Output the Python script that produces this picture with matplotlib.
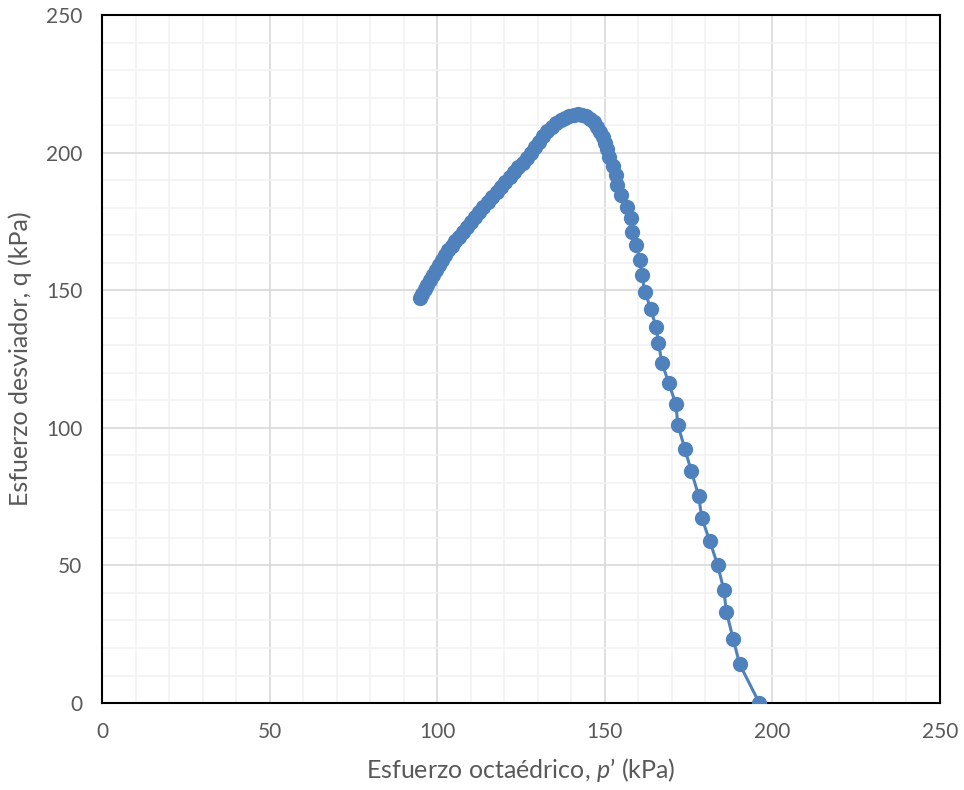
import matplotlib
matplotlib.use("Agg")
import matplotlib.pyplot as plt
from matplotlib.ticker import MultipleLocator

# trayectoria de esfuerzos (p', q) en kPa
p_asc = [95.0, 95.6, 96.3, 97.0, 97.8, 98.6, 99.5, 100.4, 101.3, 102.3,
         103.3, 104.3, 105.4, 106.5, 107.6, 108.8, 110.0, 111.2, 112.5, 113.8,
         115.1, 116.4, 117.7, 119.0, 120.3, 121.6, 122.9, 124.2, 125.5, 126.8,
         128.0, 129.2, 130.4, 131.6, 132.9, 134.2, 135.5, 136.8, 138.1, 139.4,
         140.7, 142.0, 143.2, 144.4, 145.6, 146.7, 147.7, 148.6, 149.4, 150.1]
q_asc = [147.0, 148.5, 150.3, 152.0, 153.8, 155.5, 157.4, 159.2, 161.0, 162.8,
         164.5, 166.1, 167.8, 169.5, 171.2, 173.0, 174.8, 176.6, 178.5, 180.3,
         182.0, 183.8, 185.6, 187.4, 189.2, 191.0, 192.8, 194.6, 196.4, 198.2,
         200.0, 202.0, 204.0, 206.0, 207.8, 209.3, 210.6, 211.7, 212.6, 213.3,
         213.8, 214.0, 213.8, 213.2, 212.3, 211.0, 209.4, 207.6, 205.6, 203.5]
p_desc = [150.7, 151.4, 152.4, 153.2, 153.6, 154.9, 156.7, 157.9, 158.0, 159.3,
          160.5, 161.0, 162.0, 163.7, 165.3, 166.0, 167.1, 169.1, 171.2, 171.8,
          173.9, 175.8, 178.0, 178.9, 181.3, 183.7, 185.5, 186.3, 188.3, 190.2,
          196.1]
q_desc = [201.2, 198.3, 195.3, 192.0, 188.3, 184.6, 180.3, 176.1, 171.3, 166.4,
          161.0, 155.5, 149.5, 143.1, 136.7, 130.7, 123.4, 116.2, 108.6, 101.0,
          92.3, 84.3, 75.3, 67.4, 58.9, 50.0, 41.1, 33.0, 23.3, 14.2,
          0.0]

p = p_asc + p_desc
q = q_asc + q_desc

plt.rcParams.update({"font.family": "Lato", "mathtext.fontset": "custom",
                     "mathtext.rm": "Lato", "mathtext.it": "Lato:italic"})

fig = plt.figure(figsize=(9.64, 7.9), dpi=100)
ax = fig.add_axes([0.1058, 0.1101, 0.8693, 0.8709])

ax.plot(p, q, color="#4F81BD", lw=2.2, marker="o", ms=11,
        markeredgewidth=0, zorder=3)

ax.set_xlim(0, 250); ax.set_ylim(0, 250)
ax.xaxis.set_major_locator(MultipleLocator(50))
ax.xaxis.set_minor_locator(MultipleLocator(10))
ax.yaxis.set_major_locator(MultipleLocator(50))
ax.yaxis.set_minor_locator(MultipleLocator(10))
ax.grid(which="minor", color="#F2F2F2", lw=1.2, zorder=0)
ax.grid(which="major", color="#D9D9D9", lw=1.2, zorder=1)
ax.set_axisbelow(True)
ax.tick_params(which="both", length=0, labelsize=15, labelcolor="#595959")
ax.tick_params(axis="x", pad=14)
ax.tick_params(axis="y", pad=14)
for s in ax.spines.values():
    s.set_linewidth(1.5); s.set_color("black")

ax.set_xlabel("Esfuerzo octaédrico, $p$’ (kPa)", fontsize=18, color="#595959", labelpad=10)
ax.set_ylabel("Esfuerzo desviador, q (kPa)", fontsize=18, color="#595959", labelpad=10)

fig.savefig("out.png", dpi=100)
